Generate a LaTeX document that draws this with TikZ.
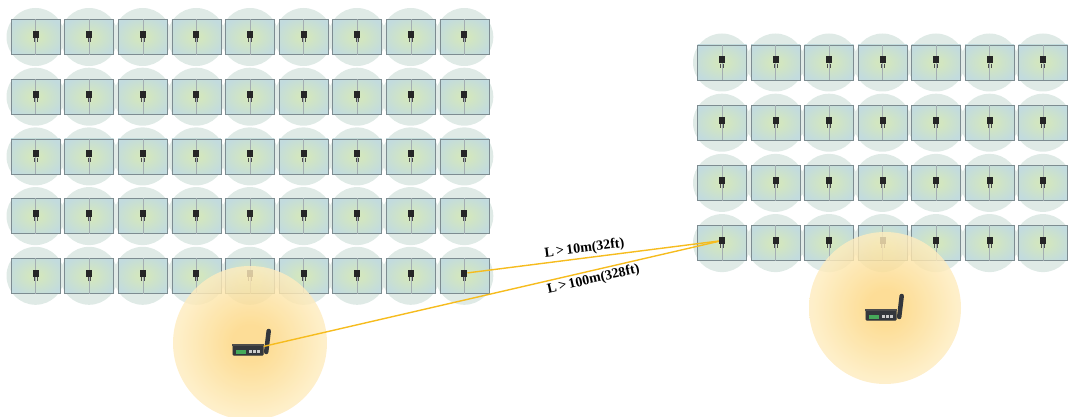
\documentclass[tikz,border=0pt]{standalone}
\usepackage{fontspec}
\setmainfont{Liberation Serif}
\usetikzlibrary{positioning,calc}

\definecolor{halo}{RGB}{223,234,230}
\definecolor{tileedge}{RGB}{125,140,145}
\definecolor{tilein}{RGB}{210,230,192}
\definecolor{tileout}{RGB}{194,219,222}
\definecolor{wire}{RGB}{246,188,30}
\definecolor{glowin}{RGB}{252,214,128}
\definecolor{glowmid}{RGB}{254,236,190}
\definecolor{glowout}{RGB}{255,249,236}
\definecolor{gwbody}{RGB}{52,55,60}
\definecolor{portgreen}{RGB}{70,170,90}

\pgfdeclareradialshading{panelglow}{\pgfpoint{0bp}{0bp}}{color(0bp)=(tilein); color(6bp)=(tilein); color(30bp)=(tileout); color(100bp)=(tileout)}
\pgfdeclareradialshading{sunglow}{\pgfpoint{0bp}{0bp}}{color(0bp)=(glowin); color(6bp)=(glowin); color(24bp)=(glowmid); color(50bp)=(glowout); color(100bp)=(glowout)}

\tikzset{
  panel/.style={rectangle,draw=tileedge,line width=0.6pt,shading=panelglow,minimum width=49pt,minimum height=35pt,inner sep=0pt},
  chip/.style={rectangle,fill=black!85,minimum width=6pt,minimum height=7pt,inner sep=0pt},
  leg/.style={black!70,line width=0.5pt},
  gw/.style={rectangle,fill=gwbody,rounded corners=1pt,minimum width=31pt,minimum height=11pt,inner sep=0pt},
  wire/.style={draw=wire,line width=1.4pt},
  lbl/.style={font=\fontsize{14}{16}\selectfont\bfseries,inner sep=2pt}
}

\begin{document}
\begin{tikzpicture}[x=1pt,y=-1pt]
\useasboundingbox (0,0) rectangle (1068,417);

% halos behind the panels
\foreach \r in {1,...,5}
  \foreach \c in {1,...,9}
    \fill[halo] (35.5+53.6*\c-53.6, 37+59.7*\r-59.7) circle (29pt);
\foreach \r in {1,...,4}
  \foreach \c in {1,...,7}
    \fill[halo] (722+53.5*\c-53.5, 62.5+60.2*\r-60.2) circle (29pt);

% left array
\foreach \r in {1,...,5}
  \foreach \c in {1,...,9}{
    \node[panel] (L-\r-\c) at (35.5+53.6*\c-53.6, 37+59.7*\r-59.7) {};
    \draw[tileedge!70,line width=0.4pt] (L-\r-\c.north) -- (L-\r-\c.south);
    \node[chip] (Lc-\r-\c) at ([yshift=2.5pt]L-\r-\c.center) {};
    \draw[leg] ([xshift=-1.3pt]Lc-\r-\c.south) -- ++(0,-4pt)
               ([xshift=1.3pt]Lc-\r-\c.south) -- ++(0,-4pt);
  }

% right array
\foreach \r in {1,...,4}
  \foreach \c in {1,...,7}{
    \node[panel] (R-\r-\c) at (722+53.5*\c-53.5, 62.5+60.2*\r-60.2) {};
    \draw[tileedge!70,line width=0.4pt] (R-\r-\c.north) -- (R-\r-\c.south);
    \node[chip] (Rc-\r-\c) at ([yshift=2.5pt]R-\r-\c.center) {};
    \draw[leg] ([xshift=-1.3pt]Rc-\r-\c.south) -- ++(0,-4pt)
               ([xshift=1.3pt]Rc-\r-\c.south) -- ++(0,-4pt);
  }

% gateways and their coverage
\node[gw] (gwL) at (248,350) {};
\node[gw] (gwR) at (881,315) {};
\shade[shading=sunglow,opacity=0.82] ([shift={(2pt,7pt)}]gwL.center) circle (77pt);
\shade[shading=sunglow,opacity=0.82] ([shift={(4pt,7pt)}]gwR.center) circle (76pt);

\foreach \g in {gwL,gwR}{
  \node[gw] at (\g) {};
  \fill[gray!60!black] (\g.north west) rectangle ([yshift=-2pt]\g.north east);
  \fill[portgreen] ([shift={(4pt,2pt)}]\g.south west) rectangle ++(10pt,4pt);
  \foreach \k in {17,21,25}
    \fill[gray!40] ([shift={(\k pt,3pt)}]\g.south west) rectangle ++(2.5pt,2.5pt);
  \draw[gwbody,line width=4.5pt,line cap=round] ([shift={(2.5pt,-2pt)}]\g.east) -- ([shift={(5pt,19pt)}]\g.east);
}

% links
\draw[wire] (Lc-5-9) -- node[lbl,above,sloped,pos=0.47] {L\,>\,10m(32ft)} (Rc-4-1);
\draw[wire] (gwL) -- node[lbl,below,sloped,pos=0.72] {L\,>\,100m(328ft)} (Rc-4-1);
\end{tikzpicture}
\end{document}
